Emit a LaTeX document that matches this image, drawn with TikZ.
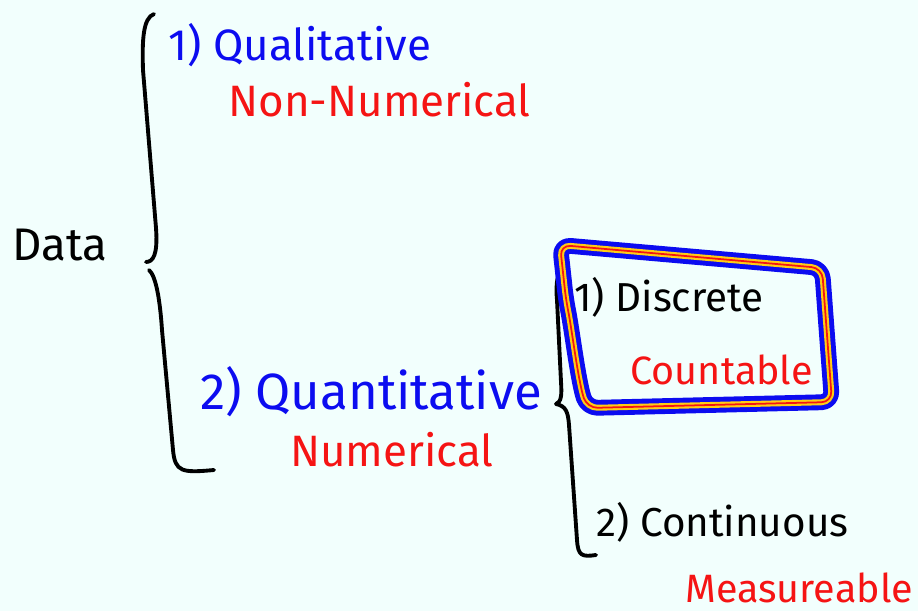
\documentclass[tikz,border=0pt]{standalone}
\usepackage{fontspec}
\setmainfont{Fira Sans}
\usetikzlibrary{positioning}
\definecolor{paper}{RGB}{242,255,253}
\definecolor{inkblue}{RGB}{12,12,240}
\definecolor{inkred}{RGB}{245,20,20}
\definecolor{inkgold}{RGB}{255,205,20}
\tikzset{
    kindlabel/.style={anchor=west, inner sep=0pt, text=inkblue,
        font=\fontsize{25}{28}\selectfont},
    sortlabel/.style={anchor=west, inner sep=0pt, text=black,
        font=\fontsize{23}{26}\selectfont},
    notelabel/.style={anchor=west, inner sep=0pt, text=inkred,
        font=\fontsize{22.5}{26}\selectfont},
    bracepen/.style={draw=black, line width=2.2pt, line cap=round, line join=round},
    frame/.style={rounded corners=6pt, line join=round}
}

\begin{document}
\begin{tikzpicture}[x=0.02cm, y=-0.02cm]
\fill[paper] (0,0) rectangle (918,611);
\useasboundingbox (0,0) rectangle (918,611);

% root
\node[anchor=west, inner sep=0pt, font=\fontsize{26}{30}\selectfont] (data) at (12,245) {Data};

% first split
\node[kindlabel] (qual) at (168,45) {1) Qualitative};
\node[notelabel, font=\fontsize{25}{28}\selectfont] (nonnum) at (228,100) {Non-Numerical};
\node[kindlabel, font=\fontsize{29}{32}\selectfont] (quant) at (200,392) {2) Quantitative};
\node[notelabel, font=\fontsize{25}{28}\selectfont] (num) at (290,450) {Numerical};

\draw[bracepen] (154,14) .. controls (143,18) and (142,40) .. (143,70)
    -- (156,228) .. controls (158,255) and (153,262) .. (146,262);
\draw[bracepen] (149,270) .. controls (156,276) and (160,300) .. (162,330)
    -- (173,450) .. controls (175,472) and (182,473) .. (214,470);

% second split
\node[sortlabel] (disc) at (574,297) {1) Discrete};
\node[notelabel] (count) at (630,370) {Countable};
\node[sortlabel] (cont) at (596,522) {2) Continuous};
\node[notelabel] (meas) at (685,588) {Measureable};

\draw[bracepen] (562,270) .. controls (556,274) and (556,290) .. (557,300)
    -- (561,382) .. controls (562,396) and (561,402) .. (556,404);
\draw[bracepen] (556,404) .. controls (566,406) and (568,412) .. (569,425)
    -- (577,540) .. controls (578,556) and (582,557) .. (596,555);

% highlight round discrete
\foreach \w/\c in {9pt/inkblue, 3.4pt/inkgold, 1pt/inkred}
    \draw[frame, draw=\c, line width=\w]
        (560,245) -- (822,268) -- (832,402) -- (587,408)
        .. controls (578,380) and (572,330) .. (566,300) -- cycle;
\end{tikzpicture}
\end{document}
